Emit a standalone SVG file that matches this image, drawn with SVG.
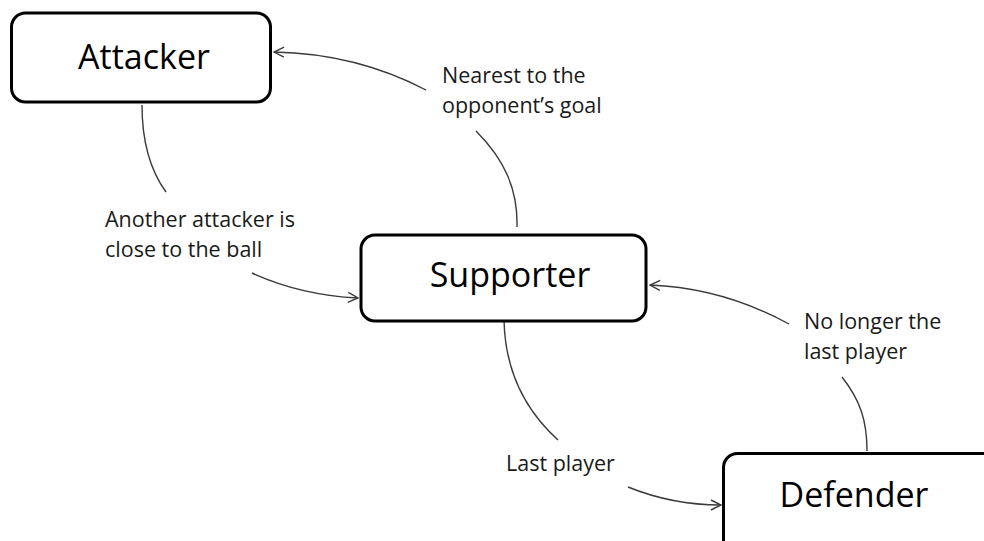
<svg xmlns="http://www.w3.org/2000/svg" width="984" height="541" viewBox="0 0 984 541">
<style>
.box{fill:#fff;stroke:#000;stroke-width:3}
.title{font-family:"Open Sans","Liberation Sans",sans-serif;font-size:34px;fill:#000;text-anchor:middle}
.lbl{font-family:"Open Sans","Liberation Sans",sans-serif;font-size:21.5px;fill:#1a1a1a}
.edge{fill:none;stroke:#3a3a3a;stroke-width:1.4}
</style>
<defs>
<marker id="arr" viewBox="0 0 12 12" refX="11" refY="6" markerWidth="12" markerHeight="12" markerUnits="userSpaceOnUse" orient="auto">
<path d="M1,1 L11,6 L1,11" fill="none" stroke="#3a3a3a" stroke-width="1.4"/>
</marker>
</defs>
<rect width="984" height="541" fill="#fff"/>
<g id="connectors">
<path class="edge" d="M142,105 C142,140 150,170 166,192"/>
<path class="edge" d="M252,273 C285,288 320,296 358,298" marker-end="url(#arr)"/>
<path class="edge" d="M517,227 C518,190 505,160 476,131"/>
<path class="edge" d="M426,90 C380,66 330,53 274,52" marker-end="url(#arr)"/>
<path class="edge" d="M504,320 C505,370 525,410 558,440"/>
<path class="edge" d="M628,487 C660,500 690,505 721,505" marker-end="url(#arr)"/>
<path class="edge" d="M867,451 C867,420 860,400 842,377"/>
<path class="edge" d="M789,324 C745,300 700,287 650,285" marker-end="url(#arr)"/>
</g>
<g id="labels">
<text class="lbl" x="442" y="83">Nearest to the</text>
<text class="lbl" x="442" y="113">opponent’s goal</text>
<text class="lbl" x="105" y="227">Another attacker is</text>
<text class="lbl" x="105" y="257">close to the ball</text>
<text class="lbl" x="506" y="471">Last player</text>
<text class="lbl" x="804" y="329">No longer the</text>
<text class="lbl" x="804" y="359">last player</text>
</g>
<g id="attacker">
<rect class="box" x="11.5" y="13" width="259" height="89" rx="14"/>
<text class="title" x="144" y="69">Attacker</text>
</g>
<g id="supporter">
<rect class="box" x="361" y="235" width="285" height="86" rx="14"/>
<text class="title" x="510" y="287">Supporter</text>
</g>
<g id="defender">
<rect class="box" x="723.5" y="453.5" width="300" height="120" rx="14"/>
<text class="title" x="854" y="507">Defender</text>
</g>
</svg>
